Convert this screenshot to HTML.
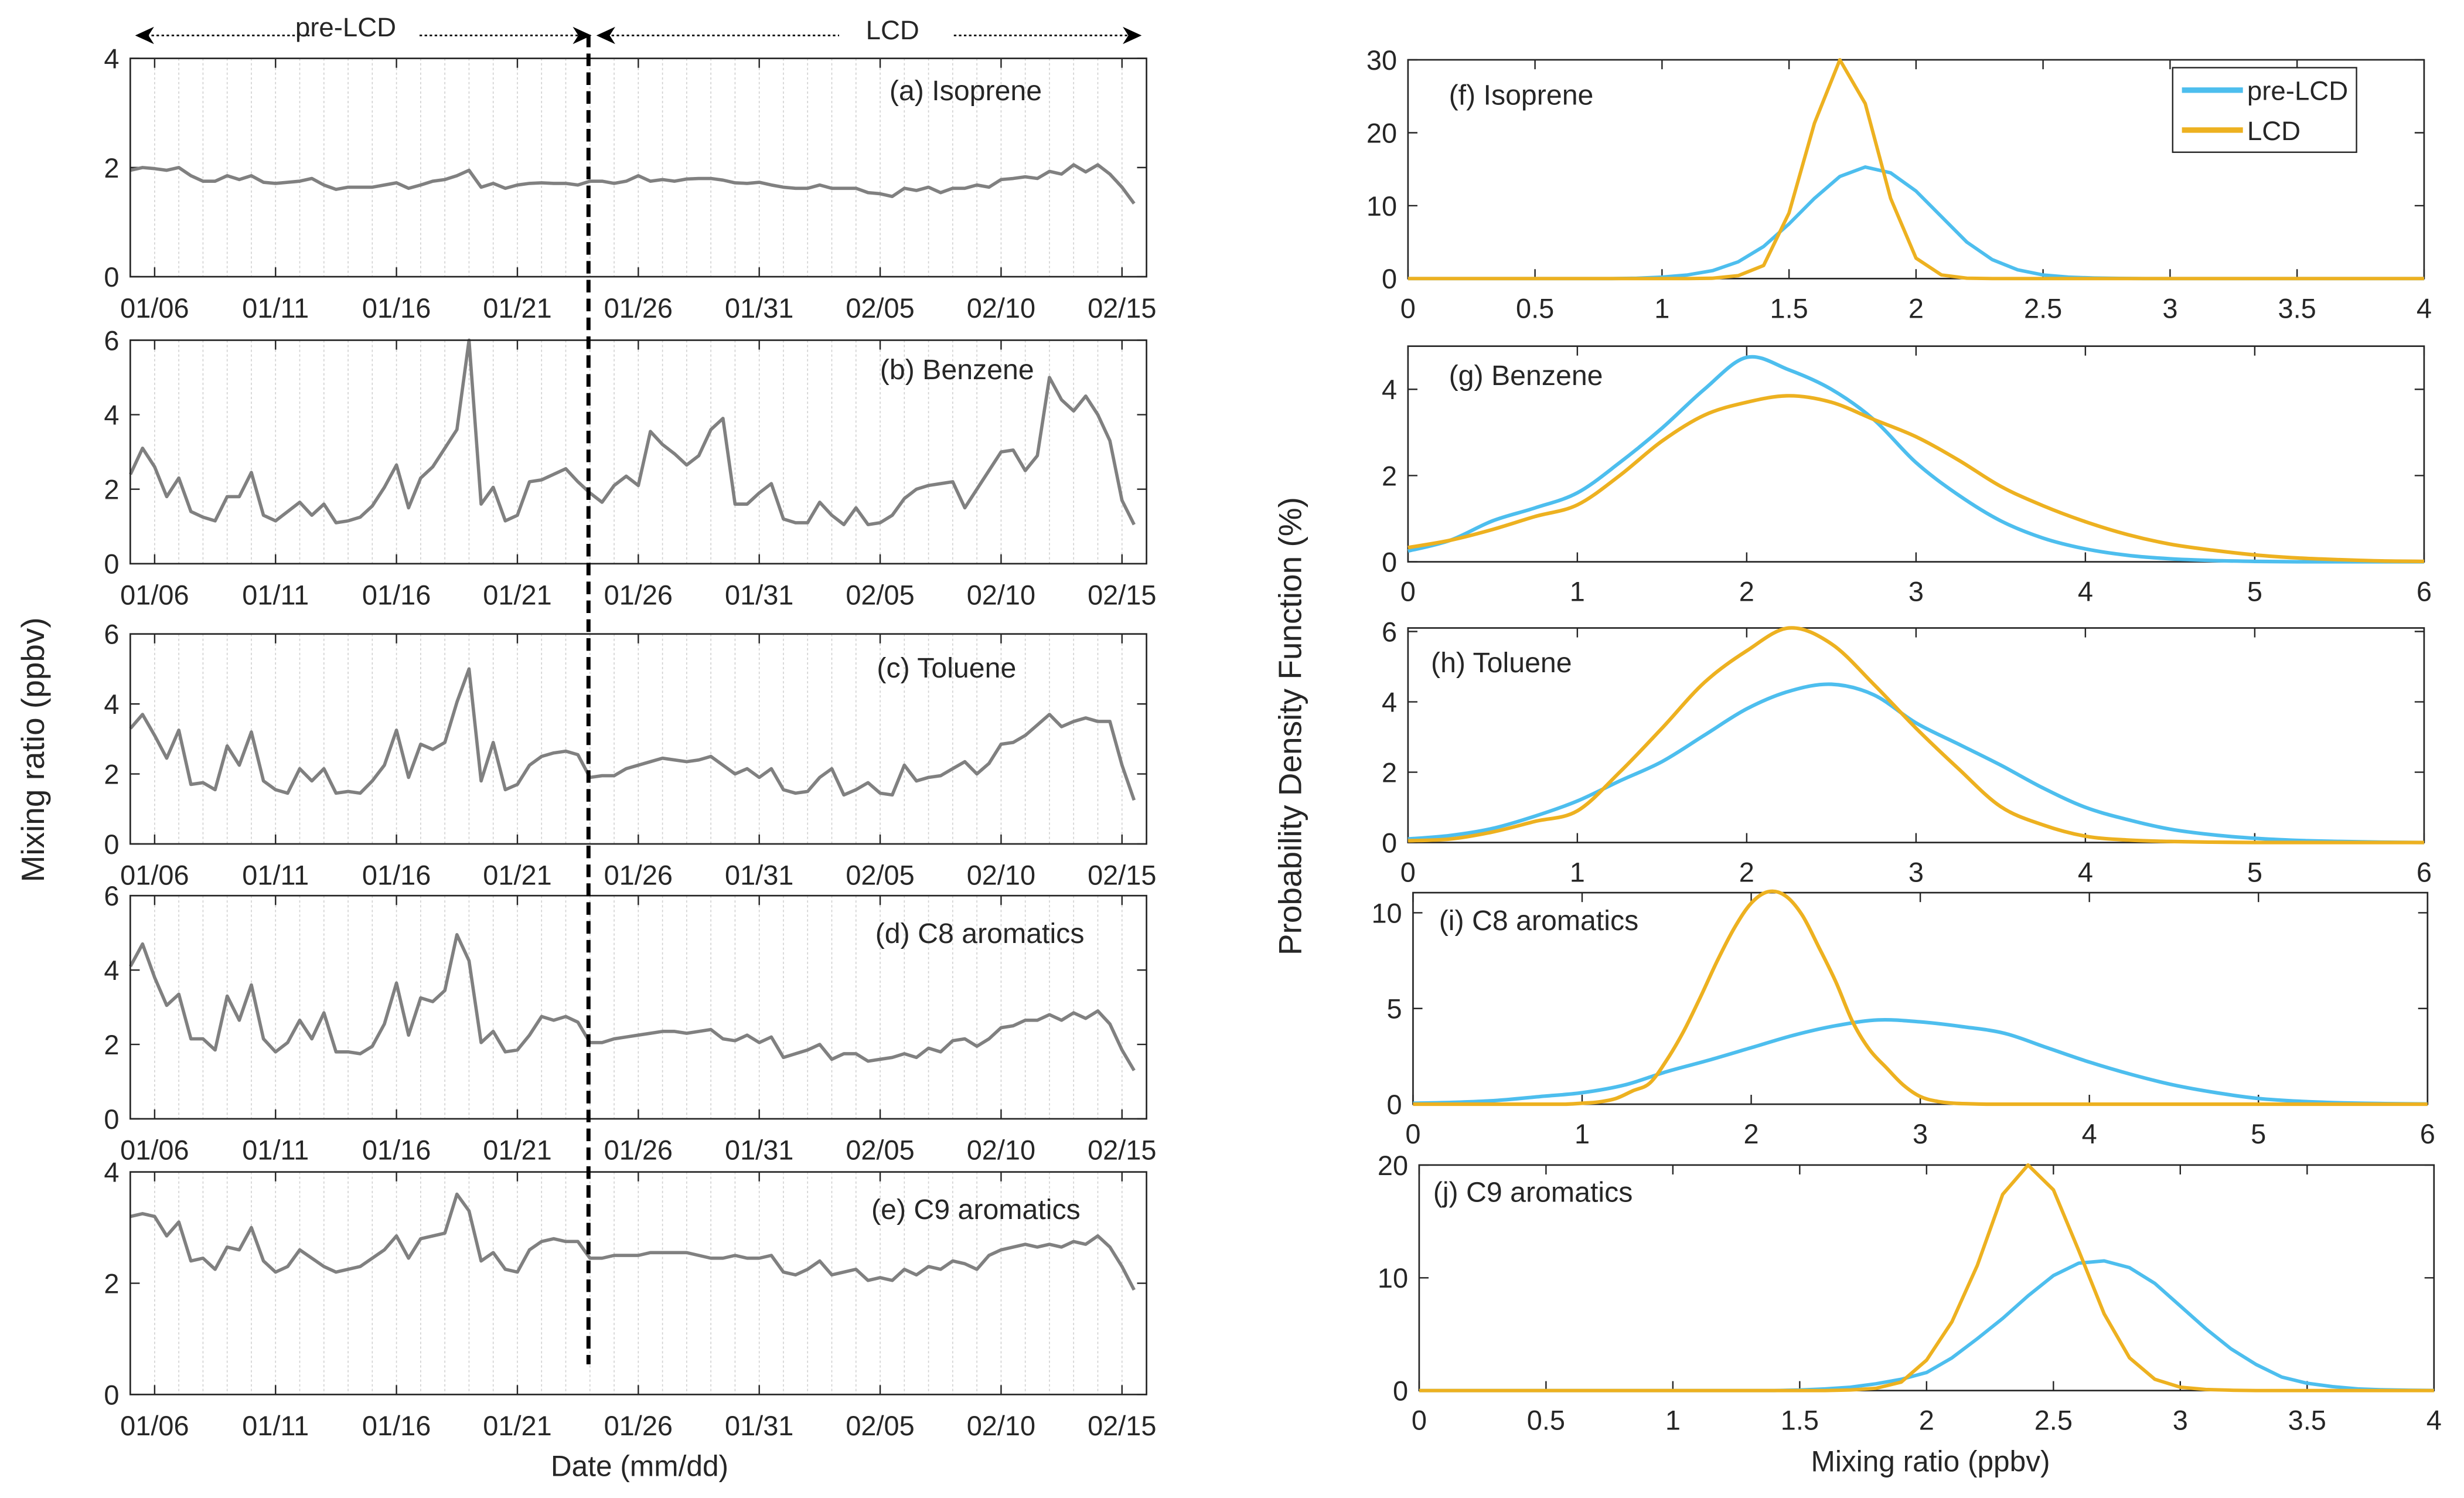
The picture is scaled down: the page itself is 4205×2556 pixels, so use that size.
<!DOCTYPE html>
<html><head><meta charset="utf-8"><style>
html,body{margin:0;padding:0;background:#fff;}
svg{display:block;font-family:"Liberation Sans",Arial,sans-serif;}
</style></head><body>
<svg id="fig" xmlns="http://www.w3.org/2000/svg" width="4205" height="2556" viewBox="0 0 1568 953"></svg>
<script>
// ---- time series data (t = days after 01/06, grid -1 .. 40.5 step 0.5) ----
const dateTickLabels = ["01/06","01/11","01/16","01/21","01/26","01/31","02/05","02/10","02/15"];
const isopreneTS = [1.95,2.0,1.98,1.95,2.0,1.85,1.75,1.75,1.85,1.78,
 1.85,1.73,1.71,1.73,1.75,1.8,1.68,1.6,1.64,1.64,
 1.64,1.68,1.72,1.62,1.68,1.75,1.78,1.85,1.95,1.64,
 1.71,1.62,1.68,1.71,1.72,1.71,1.71,1.68,1.75,1.75,
 1.71,1.75,1.85,1.75,1.78,1.75,1.79,1.8,1.8,1.77,
 1.72,1.71,1.73,1.68,1.64,1.62,1.62,1.68,1.62,1.62,
 1.62,1.54,1.52,1.47,1.62,1.58,1.64,1.54,1.62,1.62,
 1.68,1.64,1.78,1.8,1.83,1.8,1.93,1.88,2.05,1.92,
 2.05,1.88,1.64,1.34];
const benzeneTS = [2.4,3.1,2.6,1.8,2.3,1.4,1.25,1.15,1.8,1.8,
 2.45,1.3,1.15,1.4,1.65,1.3,1.6,1.1,1.15,1.25,
 1.55,2.05,2.65,1.5,2.3,2.6,3.1,3.6,6.0,1.6,
 2.05,1.15,1.3,2.2,2.25,2.4,2.55,2.2,1.9,1.65,
 2.1,2.35,2.1,3.55,3.2,2.95,2.65,2.9,3.6,3.9,
 1.6,1.6,1.9,2.15,1.2,1.1,1.1,1.65,1.3,1.05,
 1.5,1.05,1.1,1.3,1.75,2.0,2.1,2.15,2.2,1.5,
 2.0,2.5,3.0,3.05,2.5,2.9,5.0,4.4,4.1,4.5,
 4.0,3.3,1.7,1.05];
const tolueneTS = [3.3,3.7,3.1,2.45,3.25,1.7,1.75,1.55,2.8,2.25,
 3.2,1.8,1.55,1.45,2.15,1.8,2.15,1.45,1.5,1.45,
 1.8,2.25,3.25,1.9,2.85,2.7,2.9,4.05,5.0,1.8,
 2.9,1.55,1.7,2.25,2.5,2.6,2.65,2.55,1.9,1.95,
 1.95,2.15,2.25,2.35,2.45,2.4,2.35,2.4,2.5,2.25,
 2.0,2.15,1.9,2.15,1.55,1.45,1.5,1.9,2.15,1.4,
 1.55,1.75,1.45,1.4,2.25,1.8,1.9,1.95,2.15,2.35,
 2.0,2.3,2.85,2.9,3.1,3.4,3.7,3.35,3.5,3.6,
 3.5,3.5,2.25,1.25];
const c8TS = [4.1,4.7,3.8,3.05,3.35,2.15,2.15,1.85,3.3,2.65,
 3.6,2.15,1.8,2.05,2.65,2.15,2.85,1.8,1.8,1.75,
 1.95,2.55,3.65,2.25,3.25,3.15,3.45,4.95,4.25,2.05,
 2.35,1.8,1.85,2.25,2.75,2.65,2.75,2.6,2.05,2.05,
 2.15,2.2,2.25,2.3,2.35,2.35,2.3,2.35,2.4,2.15,
 2.1,2.25,2.05,2.2,1.65,1.75,1.85,2.0,1.6,1.75,
 1.75,1.55,1.6,1.65,1.75,1.65,1.9,1.8,2.1,2.15,
 1.95,2.15,2.45,2.5,2.65,2.65,2.8,2.65,2.85,2.7,
 2.9,2.55,1.85,1.3];
const c9TS = [3.2,3.25,3.2,2.85,3.1,2.4,2.45,2.25,2.65,2.6,
 3.0,2.4,2.2,2.3,2.6,2.45,2.3,2.2,2.25,2.3,
 2.45,2.6,2.85,2.45,2.8,2.85,2.9,3.6,3.3,2.4,
 2.55,2.25,2.2,2.6,2.75,2.8,2.75,2.75,2.45,2.45,
 2.5,2.5,2.5,2.55,2.55,2.55,2.55,2.5,2.45,2.45,
 2.5,2.45,2.45,2.5,2.2,2.15,2.25,2.4,2.15,2.2,
 2.25,2.05,2.1,2.05,2.25,2.15,2.3,2.25,2.4,2.35,
 2.25,2.5,2.6,2.65,2.7,2.65,2.7,2.65,2.75,2.7,
 2.85,2.65,2.3,1.88];
const lcdStartDay = 17.94;

// ---- PDF data ----
const fPre = [0,0,0,0,0,0,0,0,0,0.05,0.2,0.5,1.1,2.3,4.4,7.5,11,14,15.3,14.5,12,8.5,5,2.6,1.2,0.5,0.2,0.08,0.03,0,0,0,0,0,0,0,0,0,0,0,0];
const fLcd = [0,0,0,0,0,0,0,0,0,0,0,0,0.05,0.4,1.8,9,21.3,30,24,11,2.8,0.5,0.05,0,0,0,0,0,0,0,0,0,0,0,0,0,0,0,0,0,0];
const gPre = [0.25,0.5,0.95,1.25,1.6,2.3,3.1,4.0,4.74,4.45,4.0,3.3,2.3,1.55,0.95,0.55,0.3,0.15,0.07,0.03,0.01,0,0,0,0];
const gLcd = [0.33,0.5,0.75,1.05,1.32,2.0,2.8,3.4,3.7,3.85,3.7,3.3,2.9,2.36,1.75,1.3,0.93,0.63,0.41,0.27,0.16,0.09,0.05,0.02,0.01];
const hPre = [0.1,0.2,0.4,0.75,1.18,1.75,2.3,3.05,3.8,4.3,4.5,4.2,3.4,2.8,2.2,1.55,1.0,0.65,0.38,0.22,0.12,0.06,0.03,0.01,0];
const hLcd = [0.05,0.1,0.3,0.6,0.9,2.0,3.25,4.55,5.45,6.1,5.65,4.5,3.25,2.1,1.02,0.5,0.18,0.07,0.03,0.01,0,0,0,0,0];
const iPre = [0.05,0.1,0.2,0.4,0.6,1.0,1.7,2.3,2.95,3.6,4.1,4.4,4.3,4.05,3.7,2.95,2.2,1.55,1.0,0.6,0.3,0.15,0.07,0.03,0.01];
const iLcd = [0,0,0,0,0,0,0,0,0,0,0.05,0.12,0.3,0.7,1.1,2.3,3.8,5.6,7.5,9.2,10.5,11.1,10.9,9.9,8.2,6.4,4.3,2.85,1.9,1.0,0.4,0.15,0.05,0.02,0,0,0,0,0,0,0,0,0,0,0,0,0,0,0,0,0,0,0,0,0,0,0,0,0,0,0];
const jPre = [0,0,0,0,0,0,0,0,0,0,0,0,0,0,0,0.05,0.15,0.3,0.6,1.0,1.6,2.9,4.6,6.4,8.4,10.2,11.3,11.5,10.9,9.5,7.5,5.5,3.7,2.3,1.2,0.65,0.35,0.15,0.07,0.03,0.01];
const jLcd = [0,0,0,0,0,0,0,0,0,0,0,0,0,0,0,0,0,0.05,0.2,0.75,2.7,6.1,11.1,17.4,20,17.8,12.4,6.8,2.9,1.0,0.3,0.1,0.03,0,0,0,0,0,0,0,0];

const svg = document.getElementById('fig');
const NS = "http://www.w3.org/2000/svg";
const AX = "#262626", GRAY = "#808080", BLUE = "#4DBEEE", ORANGE = "#EDB120";
function mk(tag, attrs, parent){ const e=document.createElementNS(NS,tag); for(const k in attrs) e.setAttribute(k,attrs[k]); (parent||svg).appendChild(e); return e; }
function txt(s, x, y, size, anchor, parent){ const t=mk('text',{x:x,y:y,'font-size':size,'text-anchor':anchor||'start',fill:AX},parent); t.textContent=s; return t; }
function smoothPath(pts, bottom){
  let d = 'M'+pts[0][0].toFixed(2)+','+pts[0][1].toFixed(2);
  for(let i=0;i<pts.length-1;i++){
    const p0=pts[Math.max(0,i-1)], p1=pts[i], p2=pts[i+1], p3=pts[Math.min(pts.length-1,i+2)];
    const c1x=p1[0]+(p2[0]-p0[0])/6, c1y=Math.min(bottom,p1[1]+(p2[1]-p0[1])/6);
    const c2x=p2[0]-(p3[0]-p1[0])/6, c2y=Math.min(bottom,p2[1]-(p3[1]-p1[1])/6);
    d += ` C${c1x.toFixed(2)},${c1y.toFixed(2)} ${c2x.toFixed(2)},${c2y.toFixed(2)} ${p2[0].toFixed(2)},${p2[1].toFixed(2)}`;
  }
  return d;
}

// ---------- left time-series panels ----------
const L = 82.9, R = 729.6, T0X = 98.4, PXDAY = 15.39;
const xDay = t => T0X + t*PXDAY;
const tsPanels = [
 {key:'isoprene', data:isopreneTS, top:37.1, bot:176, ymax:4, yt:[0,2,4], title:'(a) Isoprene', tx:566, ty:63.7},
 {key:'benzene', data:benzeneTS, top:216.4, bot:358.6, ymax:6, yt:[0,2,4,6], title:'(b) Benzene', tx:560, ty:241.3},
 {key:'toluene', data:tolueneTS, top:403.3, bot:536.9, ymax:6, yt:[0,2,4,6], title:'(c) Toluene', tx:558, ty:431},
 {key:'c8', data:c8TS, top:569.8, bot:711.8, ymax:6, yt:[0,2,4,6], title:'(d) C8 aromatics', tx:557, ty:600},
 {key:'c9', data:c9TS, top:745.6, bot:887.2, ymax:4, yt:[0,2,4], title:'(e) C9 aromatics', tx:554.5, ty:775.6}
];
tsPanels.forEach(p=>{
  const g = mk('g',{});
  
  
  const y = v => p.bot - v/p.ymax*(p.bot-p.top);
  for(let d=0; d<=40; d++){
    if(d%5===0) continue;
    const gl = mk('line',{x1:xDay(d),x2:xDay(d),y1:p.top,y2:p.bot,stroke:'#d0d0d0','stroke-width':0.6,'stroke-dasharray':'1.5,1.5'},g);
    
    
  }
  for(let d=0; d<=40; d+=5){
    mk('line',{x1:xDay(d),x2:xDay(d),y1:p.top,y2:p.bot,stroke:'#d0d0d0','stroke-width':0.6,'stroke-dasharray':'1.5,1.5'},g);
    mk('line',{x1:xDay(d),x2:xDay(d),y1:p.bot,y2:p.bot-6,stroke:AX,'stroke-width':0.9},g);
    mk('line',{x1:xDay(d),x2:xDay(d),y1:p.top,y2:p.top+6,stroke:AX,'stroke-width':0.9},g);
    const lb = txt(dateTickLabels[d/5], xDay(d), p.bot+26, 17.5, 'middle', g);
    
    
  }
  p.yt.forEach(v=>{
    mk('line',{x1:L,x2:L+6,y1:y(v),y2:y(v),stroke:AX,'stroke-width':0.9},g);
    mk('line',{x1:R,x2:R-6,y1:y(v),y2:y(v),stroke:AX,'stroke-width':0.9},g);
    const lb = txt(String(v), L-7, y(v)+6.3, 17.5, 'end', g);
    
    
  });
  const pts = p.data.map((v,i)=> xDay(-1+0.5*i).toFixed(2)+','+y(v).toFixed(2)).join(' ');
  const line = mk('polyline',{points:pts,fill:'none',stroke:GRAY,'stroke-width':2.1,'stroke-linejoin':'round'},g);
  
  
  const box = mk('rect',{x:L,y:p.top,width:R-L,height:p.bot-p.top,fill:'none',stroke:AX,'stroke-width':1},g);
  
  
  const tt = txt(p.title, p.tx, p.ty, 18, 'start', g);
  
  
});

// LCD dashed divider
const divider = mk('line',{x1:xDay(lcdStartDay),x2:xDay(lcdStartDay),y1:22,y2:868,stroke:'#000','stroke-width':2.6,'stroke-dasharray':'8,4'});



// period arrows
function arrowHead(tipX, y, dir){
  const b = tipX - dir*12;
  const n = tipX - dir*8.5;
  const a = mk('polygon',{points:`${tipX},${y} ${b},${y-5.5} ${n},${y} ${b},${y+5.5}`,fill:'#000'});
  
  
}
function dotted(x1,x2,y){
  const d = mk('line',{x1:x1,x2:x2,y1:y,y2:y,stroke:'#000','stroke-width':1,'stroke-dasharray':'1.6,1.6'});
  
  
}
dotted(90,197,22.5); dotted(267,370,22.5); dotted(386,534,22.5); dotted(607,720,22.5);
arrowHead(86,22.5,-1); arrowHead(376.5,22.5,1); arrowHead(379.5,22.5,-1); arrowHead(726.5,22.5,1);
const preLab = txt('pre-LCD', 220, 23, 17, 'middle');  
const lcdLab = txt('LCD', 568, 25, 17, 'middle');  

// axis labels
const yl = txt('Mixing ratio (ppbv)', 0, 0, 20.5, 'middle'); yl.setAttribute('transform','translate(28,477) rotate(-90)');
 
const xl = txt('Date (mm/dd)', 407, 939, 18.5, 'middle');
 
const yr = txt('Probability Density Function (%)', 0, 0, 20.5, 'middle'); yr.setAttribute('transform','translate(828,462) rotate(-90)');
 
const xr = txt('Mixing ratio (ppbv)', 1228.5, 936, 18.5, 'middle');
 

// ---------- right PDF panels ----------
const pdfPanels = [
 {key:'isoprene', l:896, r:1542.6, top:38, bot:177.2, xmax:4, xstep:0.5, ymax:30, yt:[0,10,20,30], pre:fPre, preStep:0.1, lcd:fLcd, lcdStep:0.1, smooth:false, title:'(f) Isoprene', tx:922, ty:66.6},
 {key:'benzene', l:896, r:1542.6, top:220.2, bot:357.4, xmax:6, xstep:1, ymax:5, yt:[0,2,4], pre:gPre, preStep:0.25, lcd:gLcd, lcdStep:0.25, smooth:true, title:'(g) Benzene', tx:922, ty:245},
 {key:'toluene', l:896, r:1542.6, top:399.5, bot:536, xmax:6, xstep:1, ymax:6.1, yt:[0,2,4,6], pre:hPre, preStep:0.25, lcd:hLcd, lcdStep:0.25, smooth:true, title:'(h) Toluene', tx:910.6, ty:427.6},
 {key:'c8', l:899.2, r:1544.8, top:567.9, bot:702.5, xmax:6, xstep:1, ymax:11.05, yt:[0,5,10], pre:iPre, preStep:0.25, lcd:iLcd, lcdStep:0.1, smooth:true, title:'(i) C8 aromatics', tx:915.7, ty:591.7},
 {key:'c9', l:903.1, r:1548.9, top:741.2, bot:884.7, xmax:4, xstep:0.5, ymax:20, yt:[0,10,20], pre:jPre, preStep:0.1, lcd:jLcd, lcdStep:0.1, smooth:false, title:'(j) C9 aromatics', tx:912, ty:764.6}
];
pdfPanels.forEach(p=>{
  const g = mk('g',{});
  
  
  const x = v => p.l + v/p.xmax*(p.r-p.l);
  const y = v => p.bot - v/p.ymax*(p.bot-p.top);
  const nx = Math.round(p.xmax/p.xstep);
  for(let k=0;k<=nx;k++){
    const v = k*p.xstep;
    mk('line',{x1:x(v),x2:x(v),y1:p.bot,y2:p.bot-6,stroke:AX,'stroke-width':0.9},g);
    mk('line',{x1:x(v),x2:x(v),y1:p.top,y2:p.top+6,stroke:AX,'stroke-width':0.9},g);
    const lb = txt(String(v), x(v), p.bot+25, 17.5, 'middle', g);
    
    
  }
  p.yt.forEach(v=>{
    mk('line',{x1:p.l,x2:p.l+6,y1:y(v),y2:y(v),stroke:AX,'stroke-width':0.9},g);
    mk('line',{x1:p.r,x2:p.r-6,y1:y(v),y2:y(v),stroke:AX,'stroke-width':0.9},g);
    const lb = txt(String(v), p.l-7, y(v)+6.3, 17.5, 'end', g);
    
    
  });
  const box = mk('rect',{x:p.l,y:p.top,width:p.r-p.l,height:p.bot-p.top,fill:'none',stroke:AX,'stroke-width':1},g);
  
  
  const prePts = p.pre.map((v,i)=>[x(i*p.preStep), y(v)]);
  const lcdPts = p.lcd.map((v,i)=>[x(i*p.lcdStep), y(v)]);
  let preLine, lcdLine;
  if(p.smooth){
    preLine = mk('path',{d:smoothPath(prePts,p.bot),fill:'none',stroke:BLUE,'stroke-width':2.3,'stroke-linejoin':'round'},g);
    lcdLine = mk('path',{d:smoothPath(lcdPts,p.bot),fill:'none',stroke:ORANGE,'stroke-width':2.3,'stroke-linejoin':'round'},g);
  } else {
    preLine = mk('polyline',{points:prePts.map(q=>q[0].toFixed(2)+','+q[1].toFixed(2)).join(' '),fill:'none',stroke:BLUE,'stroke-width':2.2,'stroke-linejoin':'round'},g);
    lcdLine = mk('polyline',{points:lcdPts.map(q=>q[0].toFixed(2)+','+q[1].toFixed(2)).join(' '),fill:'none',stroke:ORANGE,'stroke-width':2.2,'stroke-linejoin':'round'},g);
  }
  
  
  
  
  const tt = txt(p.title, p.tx, p.ty, 18, 'start', g);
  
  
});

// legend
const lg = mk('g',{});


mk('rect',{x:1382.6,y:43,width:117,height:53.8,fill:'#fff',stroke:AX,'stroke-width':0.9},lg);
const le1 = mk('line',{x1:1388.5,x2:1427.3,y1:57.3,y2:57.3,stroke:BLUE,'stroke-width':3.5},lg);


const lt1 = txt('pre-LCD', 1430, 63.5, 17, 'start', lg);


const le2 = mk('line',{x1:1388.5,x2:1427.3,y1:82.7,y2:82.7,stroke:ORANGE,'stroke-width':3.5},lg);


const lt2 = txt('LCD', 1430, 89, 17, 'start', lg);


</script>
</body></html>
